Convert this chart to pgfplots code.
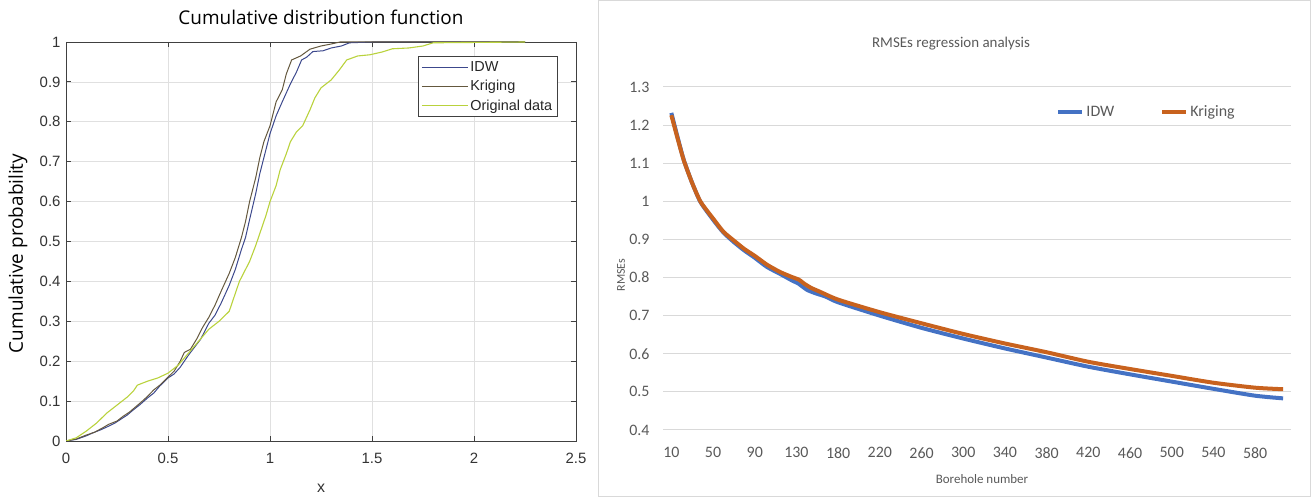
\documentclass[border=0pt]{standalone}
\usepackage{pgfplots}
\pgfplotsset{compat=1.18}
\usepackage{fontspec}
\setmainfont{Liberation Sans}
\newfontfamily\carlito{Carlito}
\newfontfamily\opensans{Open Sans}
\definecolor{idwL}{RGB}{60,72,140}
\definecolor{krgL}{RGB}{100,88,62}
\definecolor{orgL}{RGB}{185,210,60}
\definecolor{idwR}{RGB}{68,114,196}
\definecolor{krgR}{RGB}{200,98,30}
\definecolor{xlgrey}{RGB}{89,89,89}
\definecolor{frame}{RGB}{217,217,217}

\begin{document}
\begin{tikzpicture}
\useasboundingbox (0bp,0bp) rectangle (1311bp,497bp);
\draw[frame, line width=1bp] (598.5bp,0.5bp) rectangle (1310.5bp,496.5bp);

% ---------------- Left: CDF ----------------
\begin{axis}[
  at={(66bp,56bp)}, anchor=south west, scale only axis,
  width=510bp, height=399bp,
  xmin=0, xmax=2.5, ymin=0, ymax=1,
  xtick={0,0.5,1,1.5,2,2.5},
  ytick={0,0.1,0.2,0.3,0.4,0.5,0.6,0.7,0.8,0.9,1},
  grid=major, grid style={draw=black!12, line width=0.6bp},
  axis line style={draw=black!75, line width=0.9bp},
  tick style={draw=black!75, line width=0.8bp},
  tick align=inside, major tick length=5bp,
  xtick pos=both, ytick pos=both,
  /pgf/number format/assume math mode=true,
  /pgf/number format/fixed,
  ticklabel style={font=\fontsize{15}{18}\selectfont, text=black!80},
  xticklabel style={yshift=-9bp},
  yticklabel style={xshift=-2bp},
  title={Cumulative distribution function},
  title style={font=\opensans\fontsize{19}{22}\selectfont, at={(axis description cs:0.5,1)}, anchor=south, yshift=8bp},
  xlabel={x},
  xlabel style={font=\fontsize{16}{18}\selectfont, text=black!80, at={(axis description cs:0.5,0)}, anchor=center, yshift=-47bp},
  ylabel={Cumulative probability},
  ylabel style={font=\opensans\fontsize{19}{22}\selectfont, at={(axis description cs:-0.094,0.47)}, anchor=center},
  legend style={at={(axis description cs:0.964,0.965)}, anchor=north east,
    draw=black!75, line width=0.8bp, fill=white,
    font=\fontsize{14.5}{16}\selectfont, text=black!85,
    inner xsep=3bp, inner ysep=3bp, row sep=3.5bp, cells={anchor=west}},
  legend image code/.code={\draw[#1, line width=1.1bp] (0bp,0bp) -- (46bp,0bp);},
]
\addplot[idwL, line width=1bp] coordinates {
(0,0) (0.05,0.004) (0.1,0.013) (0.13,0.02) (0.17,0.028) (0.2,0.035) (0.24,0.045) (0.27,0.055)
(0.3,0.065) (0.33,0.078) (0.36,0.09) (0.4,0.108) (0.43,0.12) (0.46,0.138) (0.5,0.158)
(0.53,0.168) (0.56,0.185) (0.6,0.215) (0.63,0.235) (0.66,0.255) (0.7,0.295) (0.73,0.315)
(0.76,0.345) (0.8,0.39) (0.83,0.43) (0.86,0.48) (0.88,0.51) (0.9,0.555) (0.93,0.62)
(0.95,0.67) (0.97,0.71) (1.0,0.77) (1.03,0.815) (1.06,0.85) (1.1,0.895) (1.13,0.925)
(1.155,0.955) (1.18,0.962) (1.21,0.976) (1.26,0.978) (1.3,0.985) (1.35,0.99) (1.39,0.998)
(1.5,1) (2.25,1)};
\addlegendentry{IDW}
\addplot[krgL, line width=1bp] coordinates {
(0,0) (0.05,0.005) (0.1,0.015) (0.14,0.022) (0.18,0.033) (0.21,0.042) (0.25,0.05) (0.28,0.062)
(0.31,0.072) (0.34,0.085) (0.37,0.098) (0.4,0.112) (0.43,0.128) (0.46,0.14) (0.5,0.16)
(0.53,0.175) (0.56,0.2) (0.58,0.222) (0.61,0.23) (0.64,0.255) (0.67,0.285) (0.7,0.31)
(0.73,0.34) (0.76,0.375) (0.8,0.42) (0.83,0.46) (0.86,0.51) (0.88,0.55) (0.9,0.6)
(0.93,0.66) (0.95,0.71) (0.97,0.75) (1.0,0.79) (1.03,0.85) (1.06,0.88) (1.08,0.92)
(1.106,0.955) (1.15,0.965) (1.196,0.982) (1.25,0.99) (1.3,0.995) (1.343,1) (2.25,1)};
\addlegendentry{Kriging}
\addplot[orgL, line width=1.1bp] coordinates {
(0,0) (0.05,0.008) (0.1,0.025) (0.15,0.045) (0.2,0.07) (0.25,0.09) (0.3,0.11) (0.33,0.125)
(0.35,0.14) (0.4,0.15) (0.45,0.158) (0.5,0.17) (0.55,0.19) (0.6,0.22) (0.65,0.25)
(0.7,0.28) (0.75,0.3) (0.78,0.315) (0.8,0.325) (0.83,0.37) (0.85,0.40) (0.88,0.43)
(0.9,0.45) (0.93,0.49) (0.95,0.52) (0.98,0.565) (1.0,0.60) (1.03,0.64) (1.05,0.68)
(1.08,0.72) (1.1,0.75) (1.13,0.775) (1.16,0.79) (1.196,0.83) (1.22,0.86) (1.25,0.885)
(1.3,0.905) (1.34,0.93) (1.376,0.955) (1.43,0.965) (1.49,0.968) (1.55,0.975) (1.6,0.983)
(1.68,0.985) (1.75,0.99) (1.8,0.998) (2.25,1)};
\addlegendentry{Original data}
\end{axis}

% ---------------- Right: RMSEs ----------------
\begin{axis}[
  at={(663bp,67bp)}, anchor=south west, scale only axis,
  width=628bp, height=343bp,
  xmin=-0.2, xmax=14.86, ymin=0.4, ymax=1.3,
  xtick={0,1,2,3,4,5,6,7,8,9,10,11,12,13,14},
  xticklabels={10,50,90,130,180,220,260,300,340,380,420,460,500,540,580},
  ytick={0.4,0.5,0.6,0.7,0.8,0.9,1,1.1,1.2,1.3},
  axis line style={draw=none},
  major tick length=0pt,
  ymajorgrids, grid style={draw=black!15, line width=1bp},
  /pgf/number format/assume math mode=true,
  /pgf/number format/fixed,
  ticklabel style={font=\carlito\fontsize{16}{18}\selectfont, text=xlgrey},
  xticklabel style={yshift=-14bp},
  yticklabel style={xshift=-10bp},
  clip=false,
  legend style={at={(axis description cs:0.77,0.927)}, anchor=center,
    draw=none, fill=none, legend columns=2,
    font=\carlito\fontsize{16}{18}\selectfont, text=xlgrey,
    /tikz/every even column/.append style={column sep=44bp},
    inner sep=0pt},
  legend image code/.code={\draw[#1, line width=4bp] (0bp,0bp) -- (24bp,0bp);},
  legend cell align=left,
]
\addplot[idwR, line width=4bp, smooth, tension=0.4] coordinates {
(0,1.232) (0.15,1.168) (0.3,1.108) (0.5,1.048) (0.7,0.998) (1.0,0.952) (1.25,0.918)
(1.5,0.893) (1.75,0.871) (2.0,0.852) (2.29,0.828) (2.6,0.81) (2.9,0.792) (3.05,0.784)
(3.25,0.768) (3.45,0.759) (3.7,0.75) (4,0.735) (5,0.70) (6,0.668) (7,0.640) (8,0.614)
(9,0.590) (10,0.566) (11,0.546) (12,0.527) (13,0.508) (14,0.49) (14.67,0.483)};
\addlegendentry{IDW}
\addplot[krgR, line width=4bp, smooth, tension=0.4] coordinates {
(0,1.226) (0.15,1.165) (0.3,1.107) (0.5,1.048) (0.7,0.999) (1.0,0.955) (1.25,0.92)
(1.5,0.897) (1.75,0.875) (2.0,0.857) (2.29,0.834) (2.6,0.815) (2.9,0.801) (3.05,0.795)
(3.2,0.783) (3.35,0.773) (3.6,0.761) (4,0.742) (5,0.709) (6,0.68) (7,0.652) (8,0.627)
(9,0.604) (10,0.579) (11,0.56) (12,0.542) (13,0.524) (14,0.511) (14.67,0.507)};
\addlegendentry{Kriging}
\end{axis}

\node[font=\carlito\fontsize{15}{18}\selectfont, text=xlgrey] at (951bp,453bp) {RMSEs regression analysis};
\node[font=\carlito\fontsize{13}{16}\selectfont, text=xlgrey] at (982bp,18bp) {Borehole number};
\node[font=\carlito\fontsize{12}{14}\selectfont, text=xlgrey, rotate=90] at (621bp,222bp) {RMSEs};
\end{tikzpicture}
\end{document}
